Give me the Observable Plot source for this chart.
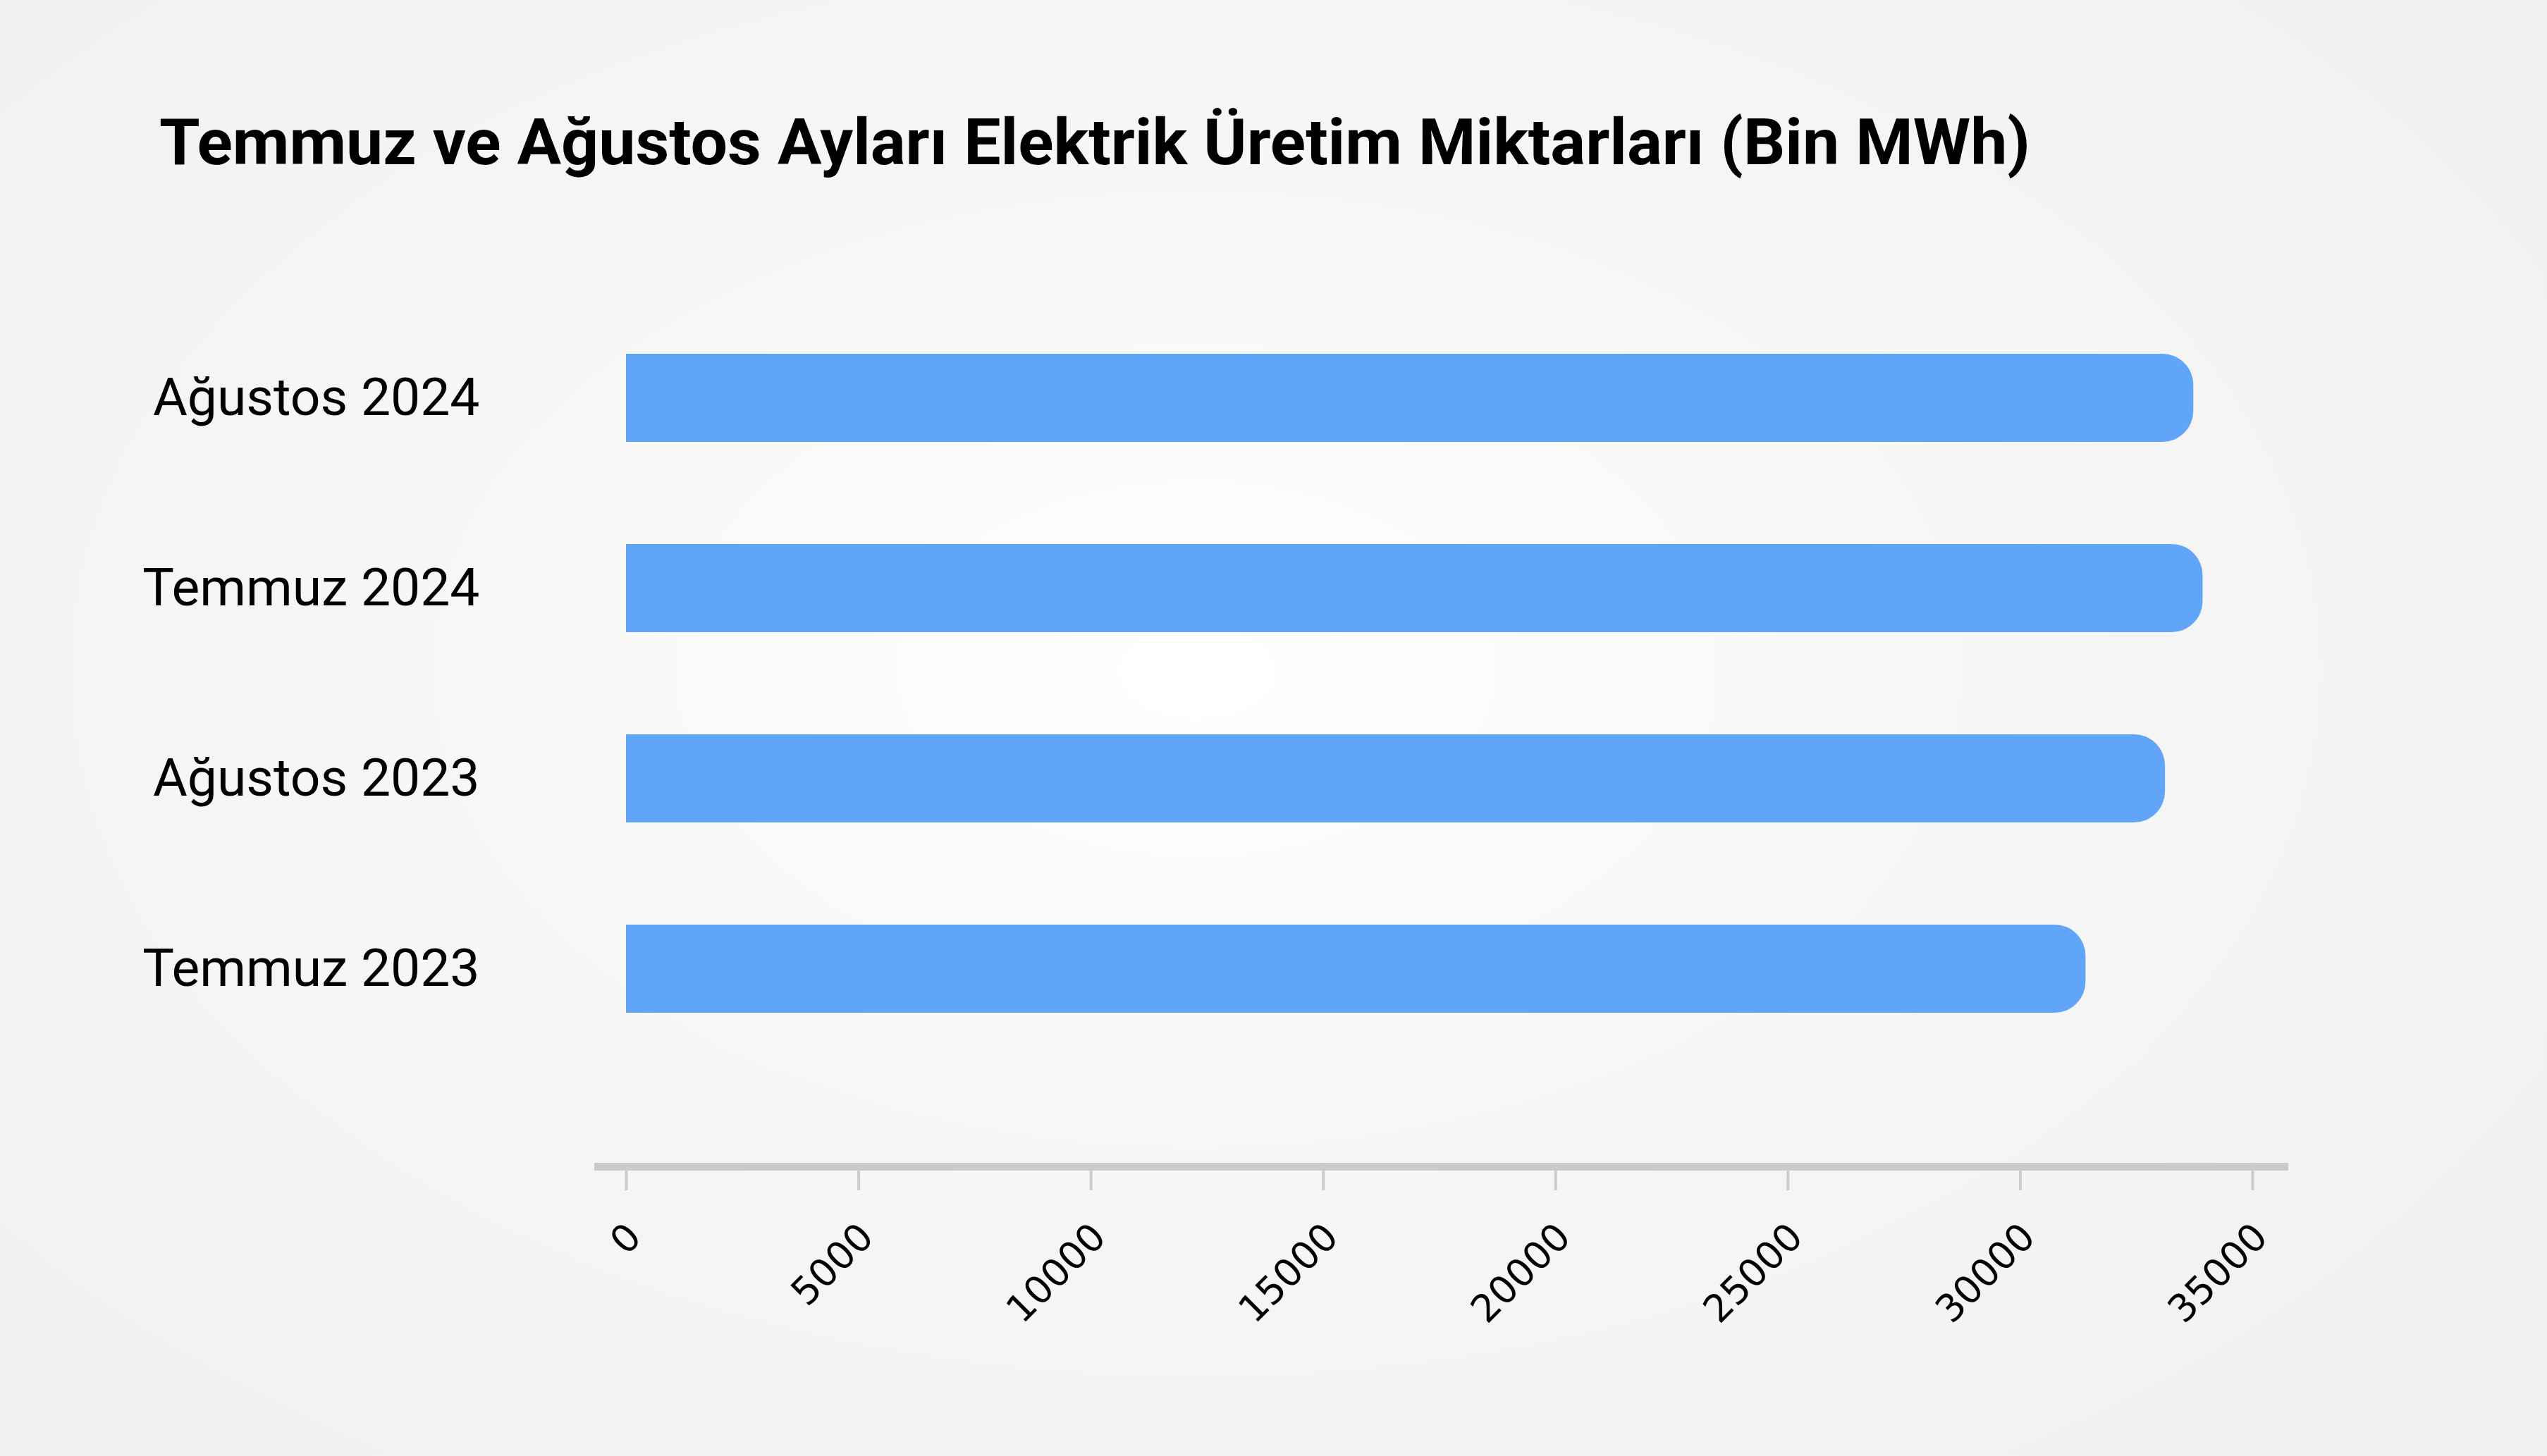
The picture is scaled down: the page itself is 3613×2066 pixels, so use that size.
<!DOCTYPE html>
<html>
<head>
<meta charset="utf-8">
<script src="https://cdn.jsdelivr.net/npm/d3@7"></script>
<script src="https://cdn.jsdelivr.net/npm/@observablehq/plot@0.6"></script>
<style>
html, body { margin: 0; padding: 0; }
body {
  width: 3613px; height: 2066px; overflow: hidden; position: relative;
  background: radial-gradient(ellipse 62% 68% at 47% 46%, #ffffff 0%, #f7f7f6 45%, #f0f1f1 100%);
  font-family: Roboto, sans-serif;
}
#title {
  position: absolute; left: 226px; top: 158px; margin: 0;
  font: 700 90px/90px Roboto, sans-serif; color: #000; white-space: nowrap;
  transform-origin: left top;
}
#chart { position: absolute; left: 0; top: 300px; }
</style>
</head>
<body>
<h1 id="title">Temmuz ve Ağustos Ayları Elektrik Üretim Miktarları (Bin MWh)</h1>
<div id="chart"></div>
<script>
const categories = ["Ağustos 2024", "Temmuz 2024", "Ağustos 2023", "Temmuz 2023"];
const values = [33730, 33930, 33120, 31410];
const xTicks = [0, 5000, 10000, 15000, 20000, 25000, 30000, 35000];

const data = categories.map((c, i) => ({category: c, value: values[i]}));

// fit title width to the reference's condensed title
const t = document.getElementById("title");
const w = t.getBoundingClientRect().width;
t.style.transform = `scaleX(${2654 / w})`;

const chart = Plot.plot({
  width: 3613,
  height: 1766,
  marginTop: 0,
  marginLeft: 848,
  marginRight: 373,
  marginBottom: 411,
  style: {background: "transparent", overflow: "visible"},
  x: {domain: [0, 35000], insetLeft: 40, insetRight: 45, label: null},
  y: {domain: categories, padding: 0.537, insetTop: 57, insetBottom: 73, label: null},
  marks: [
    Plot.frame({anchor: "bottom", stroke: "#cbcbcb", strokeWidth: 11}),
    Plot.barX(data, {x: "value", y: "category", fill: "#61a5f9", rx: 44}),
    Plot.barX(data, {x: "value", y: "category", fill: "#61a5f9", insetRight: 44}),
    Plot.axisX({
      ticks: xTicks, tickSize: 34, stroke: "#cccccc", strokeWidth: 4,
      tickFormat: () => "", label: null
    }),
    Plot.axisX({
      ticks: xTicks, tickSize: 0, tickFormat: d => String(d),
      tickRotate: -45, textAnchor: "end", lineAnchor: "bottom",
      tickPadding: 103, dx: 24, fontSize: 54, fontFamily: "DejaVu Sans",
      fill: "#000", label: null
    }),
    Plot.axisY({
      tickSize: 0, tickPadding: 168, fontSize: 75, fontFamily: "Roboto",
      fill: "#000", label: null
    })
  ]
});
document.getElementById("chart").appendChild(chart);
</script>
</body>
</html>
